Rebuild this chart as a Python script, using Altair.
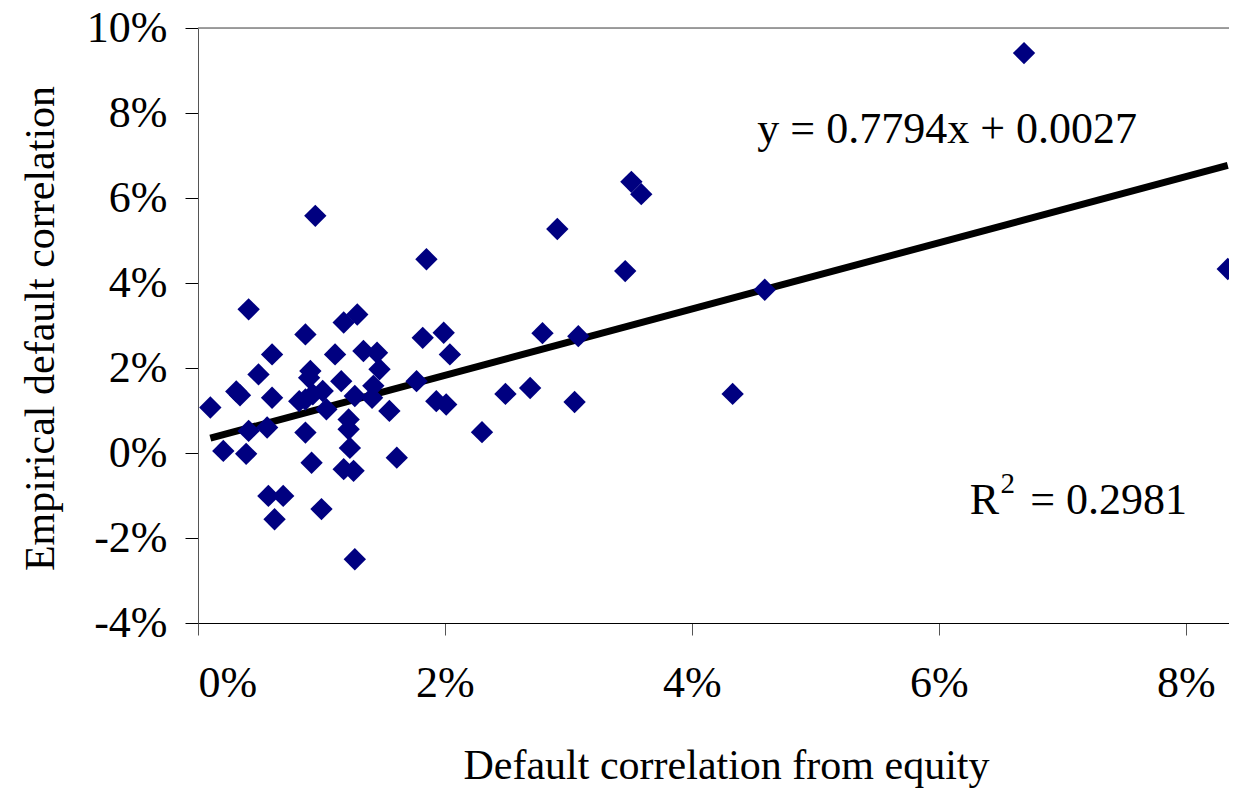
import altair as alt
import pandas as pd

# Default correlation from equity (%), Empirical default correlation (%)
x_pct = [0.10, 0.205, 0.39, 0.31, 0.34, 0.41, 0.49, 0.60, 0.60, 0.41, 0.56, 0.57, 0.69, 0.62,
         0.87, 0.91, 0.90, 0.87, 0.93, 1.01, 1.04, 0.87, 0.92, 1.00, 1.11, 1.18, 1.29, 1.16,
         1.27, 1.34, 1.45, 1.47, 1.42, 1.41, 1.22, 1.22, 1.23, 1.18, 1.26, 1.27, 1.55, 1.61,
         1.77, 1.82, 1.99, 2.04, 1.93, 2.01, 0.95, 1.85, 2.91, 3.51, 3.59, 3.46, 2.79, 3.08,
         2.49, 2.69, 2.30, 3.05, 4.33, 4.59, 6.69, 8.34, 0.82]
y_pct = [1.07, 0.05, -0.02, 1.45, 1.36, 3.38, 1.85, 2.32, 1.30, 0.52, 0.60, -1.01, -1.01, -1.56,
         2.79, 1.93, 1.77, 1.26, 1.38, 1.46, 1.03, 0.48, -0.23, -1.32, 2.32, 3.07, 3.26, 1.69,
         1.34, 2.40, 2.36, 1.97, 1.58, 1.30, 0.79, 0.56, 0.12, -0.38, -0.42, -2.50, 0.99, -0.11,
         1.69, 2.71, 2.83, 2.32, 1.22, 1.14, 5.58, 4.56, 5.27, 6.38, 6.09, 4.28, 2.82, 2.75,
         1.39, 1.53, 0.49, 1.20, 1.39, 3.84, 9.41, 4.33, 1.22]

slope = 0.7794
intercept = 0.0027
eq_text = "y = 0.7794x + 0.0027"
r2_value = "= 0.2981"

x_ticks = [0, 0.02, 0.04, 0.06, 0.08]
y_ticks = [-0.04, -0.02, 0, 0.02, 0.04, 0.06, 0.08, 0.10]

pts = pd.DataFrame({"x": [v / 100 for v in x_pct], "y": [v / 100 for v in y_pct]})
xmin, xmax = pts["x"].min(), pts["x"].max()
trend = pd.DataFrame({"x": [xmin, xmax], "y": [slope * xmin + intercept, slope * xmax + intercept]})

FONT = "Liberation Serif"
xs = alt.Scale(domain=[0, 0.0835], nice=False, zero=False)
ys = alt.Scale(domain=[-0.04, 0.10], nice=False, zero=False)

pct_expr = "round(datum.value*100) + '%'"

base = alt.Chart(pts)

points = base.mark_point(shape="diamond", filled=True, color="#000080", size=500, opacity=1).encode(
    x=alt.X("x:Q", scale=xs,
            axis=alt.Axis(values=x_ticks, labelExpr=pct_expr, title="Default correlation from equity",
                          grid=False, domainColor="#000000", tickColor="#555555", tickSize=12,
                          labelFontSize=44, labelFont=FONT, labelColor="black", labelPadding=26,
                          titleFont=FONT, titleFontSize=42, titleFontWeight="normal", titleColor="black",
                          titleX=528, titleY=155, titleBaseline="alphabetic", titleAnchor="middle")),
    y=alt.Y("y:Q", scale=ys,
            axis=alt.Axis(values=y_ticks, labelExpr=pct_expr, title="Empirical default correlation",
                          grid=False, domainColor="#555555", tickColor="#000000", tickSize=13,
                          labelFontSize=44, labelFont=FONT, labelColor="black", labelPadding=18,
                          titleFont=FONT, titleFontSize=42, titleFontWeight="normal", titleColor="black",
                          titleX=-158, titleY=300, titleBaseline="middle", titleAngle=270,
                          titleAlign="center")),
)

top_border = alt.Chart(pd.DataFrame({"y": [0.10]})).mark_rule(color="#808080", strokeWidth=1.5).encode(
    y=alt.Y("y:Q", scale=ys)
)

line = alt.Chart(trend).mark_line(color="black", strokeWidth=7).encode(
    x=alt.X("x:Q", scale=xs), y=alt.Y("y:Q", scale=ys)
)

ann = pd.DataFrame({
    "x": [0.0453, 0.0625, 0.0650, 0.0674],
    "y": [0.0729, -0.0143, -0.0093, -0.0143],
    "t": [eq_text, "R", "2", r2_value],
    "s": [44, 44, 29, 44],
})
texts = alt.Chart(ann).mark_text(font=FONT, align="left", baseline="alphabetic", color="black").encode(
    x=alt.X("x:Q", scale=xs), y=alt.Y("y:Q", scale=ys), text="t:N",
    size=alt.Size("s:Q", scale=None, legend=None)
)

chart = alt.layer(top_border, line, points, texts).properties(
    width=1031, height=595,
    autosize=alt.AutoSizeParams(type="none"),
    padding={"left": 190, "top": 20, "right": 0, "bottom": 166},
).configure_view(stroke=None).configure(background="white")

chart.save("out.html", embed_options={"renderer": "svg", "actions": False})
